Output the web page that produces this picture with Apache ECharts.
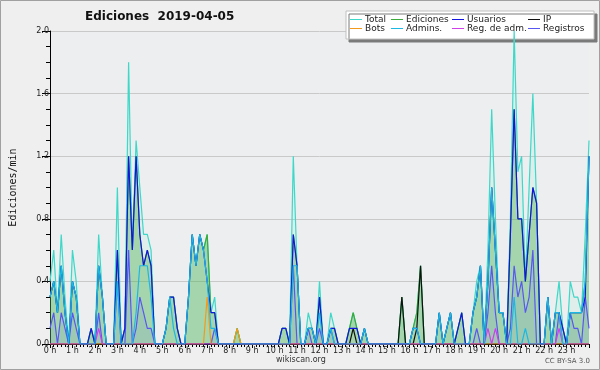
<!DOCTYPE html>
<html>
<head>
<meta charset="utf-8">
<script src="https://cdn.jsdelivr.net/npm/echarts@6/dist/echarts.min.js"></script>
<style>
html, body { margin: 0; padding: 0; background: #efefef; }
#chart { width: 600px; height: 370px; }
</style>
</head>
<body>
<div id="chart"></div>
<script>
// one value every 10 minutes, 00:00 .. 24:00 (6 per line = 1 hour)
var total = [
  .4, .6, .2, .7, .3, 0,
  .6, .4, 0, 0, 0, .1,
  0, .7, .3, 0, 0, 0,
  1.0, 0, .1, 1.8, .6, 1.3,
  1.0, .7, .7, .6, 0, 0,
  0, .1, .3, .3, .1, 0,
  0, .3, .7, .5, .7, .6,
  .7, .2, .3, 0, 0, 0,
  0, 0, .1, 0, 0, 0,
  0, 0, 0, 0, 0, 0,
  0, 0, .1, .1, 0, 1.2,
  .5, 0, 0, .2, .1, 0,
  .4, 0, 0, .2, .1, 0,
  0, 0, .1, .2, .1, 0,
  .1, 0, 0, 0, 0, 0,
  0, 0, 0, 0, .3, 0,
  0, .1, .2, .5, 0, 0,
  0, 0, .2, 0, .1, .2,
  0, .1, .2, 0, 0, .2,
  .4, .5, 0, .6, 1.5, .8,
  .2, .2, 0, .8, 2.0, 1.1,
  1.2, .4, 1.0, 1.6, .9, 0,
  0, .3, 0, .2, .4, .1,
  0, .4, .3, .3, .2, .7,
  1.3
];
var ediciones = [
  .3, .4, .2, .5, .2, 0,
  .4, .3, 0, 0, 0, .1,
  0, .5, .3, 0, 0, 0,
  .6, 0, .1, 1.2, .6, 1.2,
  .7, .5, .6, .5, 0, 0,
  0, .1, .3, .3, .1, 0,
  0, .3, .7, .5, .7, .6,
  .7, .2, .2, 0, 0, 0,
  0, 0, .1, 0, 0, 0,
  0, 0, 0, 0, 0, 0,
  0, 0, .1, .1, 0, .7,
  .5, 0, 0, .1, .1, 0,
  .3, 0, 0, .1, .1, 0,
  0, 0, .1, .2, .1, 0,
  .1, 0, 0, 0, 0, 0,
  0, 0, 0, 0, .3, 0,
  0, .1, .2, .5, 0, 0,
  0, 0, .2, 0, .1, .2,
  0, .1, .2, 0, 0, .2,
  .3, .5, 0, .4, 1.0, .6,
  .2, .2, 0, .7, 1.5, .8,
  .8, .4, .7, 1.0, .9, 0,
  0, .3, 0, .2, .2, .1,
  0, .2, .2, .2, .2, .4,
  1.2
];
var usuarios = [
  .3, .4, .2, .5, .2, 0,
  .4, .3, 0, 0, 0, .1,
  0, .5, .3, 0, 0, 0,
  .6, 0, .1, 1.2, .6, 1.2,
  .7, .5, .6, .5, 0, 0,
  0, .1, .3, .3, .1, 0,
  0, .3, .7, .5, .7, .6,
  .4, .2, .2, 0, 0, 0,
  0, 0, 0, 0, 0, 0,
  0, 0, 0, 0, 0, 0,
  0, 0, .1, .1, 0, .7,
  .5, 0, 0, .1, .1, 0,
  .3, 0, 0, .1, .1, 0,
  0, 0, .1, .1, .1, 0,
  .1, 0, 0, 0, 0, 0,
  0, 0, 0, 0, 0, 0,
  0, .1, .1, 0, 0, 0,
  0, 0, .2, 0, .1, .2,
  0, .1, .2, 0, 0, .2,
  .3, .5, 0, .4, 1.0, .6,
  .2, .2, 0, .7, 1.5, .8,
  .8, .4, .7, 1.0, .9, 0,
  0, .3, 0, .2, .2, .1,
  0, .2, .2, .2, .2, .3,
  1.2
];
var admins = [
  .3, .4, .2, .5, .2, 0,
  .4, .3, 0, 0, 0, 0,
  0, .5, .3, 0, 0, 0,
  .4, 0, 0, 0, 0, .2,
  .5, .5, .5, .3, 0, 0,
  0, .1, .3, .1, 0, 0,
  0, .3, .7, .5, .7, .6,
  .4, .1, .1, 0, 0, 0,
  0, 0, 0, 0, 0, 0,
  0, 0, 0, 0, 0, 0,
  0, 0, 0, 0, 0, .5,
  .5, 0, 0, .1, .1, 0,
  .2, 0, 0, .1, 0, 0,
  0, 0, 0, 0, 0, 0,
  .1, 0, 0, 0, 0, 0,
  0, 0, 0, 0, 0, 0,
  0, .1, .1, 0, 0, 0,
  0, 0, .2, 0, .1, .2,
  0, 0, 0, 0, 0, .2,
  .3, .5, 0, .4, 1.0, .6,
  .2, .2, 0, 0, .3, 0,
  0, .1, 0, 0, 0, 0,
  0, .3, 0, .2, .2, 0,
  0, .2, .2, .2, .2, .4,
  1.2
];
var registros = [
  .1, .2, 0, .2, .1, 0,
  .2, .1, 0, 0, 0, 0,
  0, .2, 0, 0, 0, 0,
  .4, 0, 0, .6, 0, .1,
  .3, .2, .1, .1, 0, 0,
  0, 0, 0, 0, 0, 0,
  0, 0, 0, 0, 0, 0,
  0, 0, .1, 0, 0, 0,
  0, 0, 0, 0, 0, 0,
  0, 0, 0, 0, 0, 0,
  0, 0, 0, 0, 0, .5,
  0, 0, 0, .1, 0, 0,
  .1, 0, 0, .1, 0, 0,
  0, 0, 0, 0, 0, 0,
  0, 0, 0, 0, 0, 0,
  0, 0, 0, 0, 0, 0,
  0, 0, 0, 0, 0, 0,
  0, 0, 0, 0, 0, 0,
  0, 0, 0, 0, 0, 0,
  .1, 0, 0, .2, .5, .2,
  0, 0, 0, .1, .5, .3,
  .4, .2, .3, .6, 0, 0,
  0, 0, 0, 0, .2, 0,
  0, .2, .1, .1, 0, .3,
  .1
];
var ip = [
  0, 0, 0, 0, 0, 0,  0, 0, 0, 0, 0, 0,  0, 0, 0, 0, 0, 0,  0, 0, 0, 0, 0, 0,
  0, 0, 0, 0, 0, 0,  0, 0, 0, 0, 0, 0,  0, 0, 0, 0, 0, 0,  0, 0, 0, 0, 0, 0,
  0, 0, 0, 0, 0, 0,  0, 0, 0, 0, 0, 0,  0, 0, 0, 0, 0, 0,  0, 0, 0, 0, 0, 0,
  0, 0, 0, 0, 0, 0,  0, 0, 0, .1, 0, 0,  0, 0, 0, 0, 0, 0,  0, 0, 0, 0, .3, 0,
  0, 0, .1, .5, 0, 0,  0, 0, 0, 0, 0, 0,  0, 0, 0, 0, 0, 0,  0, 0, 0, 0, 0, 0,
  0, 0, 0, 0, 0, 0,  0, 0, 0, 0, 0, 0,  0, 0, 0, 0, 0, 0,  0, 0, 0, 0, 0, 0,
  0
];
var bots = [
  0, 0, 0, 0, 0, 0,  0, 0, 0, 0, 0, 0,  0, 0, 0, 0, 0, 0,  0, 0, 0, 0, 0, 0,
  0, 0, 0, 0, 0, 0,  0, 0, 0, 0, 0, 0,  0, 0, 0, 0, 0, 0,  .3, 0, 0, 0, 0, 0,
  0, 0, .1, 0, 0, 0,  0, 0, 0, 0, 0, 0,  0, 0, 0, 0, 0, 0,  0, 0, 0, 0, 0, 0,
  0, 0, 0, 0, 0, 0,  0, 0, 0, 0, 0, 0,  0, 0, 0, 0, 0, 0,  0, 0, 0, 0, 0, 0,
  0, 0, 0, 0, 0, 0,  0, 0, 0, 0, 0, 0,  0, 0, 0, 0, 0, 0,  0, 0, 0, 0, 0, 0,
  0, 0, 0, 0, 0, 0,  0, 0, 0, 0, 0, 0,  0, 0, 0, 0, 0, 0,  0, 0, 0, 0, 0, 0,
  0
];
var regAdm = [
  0, 0, 0, 0, 0, 0,  0, 0, 0, 0, 0, 0,  0, .1, 0, 0, 0, 0,  0, 0, 0, 0, 0, 0,
  0, 0, 0, 0, 0, 0,  0, 0, 0, 0, 0, 0,  0, 0, 0, 0, 0, 0,  0, 0, 0, 0, 0, 0,
  0, 0, 0, 0, 0, 0,  0, 0, 0, 0, 0, 0,  0, 0, 0, 0, 0, 0,  0, 0, 0, 0, 0, 0,
  0, 0, 0, 0, 0, 0,  0, 0, 0, 0, 0, 0,  0, 0, 0, 0, 0, 0,  0, 0, 0, 0, 0, 0,
  0, 0, 0, 0, 0, 0,  0, 0, 0, 0, 0, 0,  0, 0, 0, 0, 0, 0,  0, 0, 0, .1, 0, .1,
  0, 0, 0, 0, 0, 0,  0, 0, 0, 0, 0, 0,  0, 0, 0, 0, .1, 0,  0, 0, 0, 0, 0, 0,
  0
];

var hourLabels = ['0 h', '1 h', '2 h', '3 h', '4 h', '5 h', '6 h', '7 h', '8 h', '9 h', '10 h', '11 h',
  '12 h', '13 h', '14 h', '15 h', '16 h', '17 h', '18 h', '19 h', '20 h', '21 h', '22 h', '23 h'];
var yTickLabels = ['0.0', '0.4', '0.8', '1.2', '1.6', '2.0'];
var legendNames = ['Total', 'Ediciones', 'Usuarios', 'IP', 'Bots', 'Admins.', 'Reg. de adm.', 'Registros'];

function pts(arr) {
  return arr.map(function (v, i) { return [i / 6, v]; });
}

function lineSeries(name, data, color, extra) {
  var s = {
    name: name,
    type: 'line',
    data: pts(data),
    symbol: 'none',
    showSymbol: false,
    itemStyle: { color: color },
    lineStyle: { color: color, width: 1.2 },
    emphasis: { disabled: true }
  };
  if (extra) for (var k in extra) s[k] = extra[k];
  return s;
}

var font = 'DejaVu Sans';

// legend laid out as a 4 x 2 grid
var colLeft = [350, 391, 452, 528];
var rowTop = [15, 24];
var legends = legendNames.map(function (n, i) {
  return {
    data: [n],
    left: colLeft[i % 4],
    top: rowTop[Math.floor(i / 4)],
    padding: 0,
    icon: 'rect',
    itemWidth: 12,
    itemHeight: 1,
    selectedMode: false,
    z: 4,
    textStyle: { fontFamily: font, fontSize: 9, color: '#222', lineHeight: 9, padding: [0, 0, 0, -2] }
  };
});

var chart = echarts.init(document.getElementById('chart'));
chart.setOption({
  animation: false,
  backgroundColor: '#efefef',
  title: {
    text: 'Ediciones  2019-04-05',
    left: 85, top: 11, padding: 0,
    textStyle: { fontFamily: font, fontSize: 12, fontWeight: 'bold', color: '#111' }
  },
  legend: legends,
  grid: {
    left: 46, right: 11, top: 31, bottom: 26,
    show: true, backgroundColor: '#eceef0', borderWidth: 0
  },
  xAxis: {
    type: 'value', min: 0, max: 24, interval: 1,
    axisLine: { lineStyle: { color: '#000', width: 1 } },
    axisTick: { length: 4, lineStyle: { color: '#000' } },
    minorTick: { show: true, splitNumber: 6, length: 3, lineStyle: { color: '#000' } },
    splitLine: { show: false },
    axisLabel: {
      fontFamily: font, fontSize: 8, color: '#222', margin: 3,
      formatter: function (v) { return hourLabels[v] || ''; }
    }
  },
  yAxis: {
    type: 'value', min: 0, max: 2, interval: 0.4,
    name: 'Ediciones/min', nameLocation: 'middle', nameGap: 32,
    nameTextStyle: { fontFamily: 'DejaVu Sans Mono', fontSize: 10, color: '#111' },
    axisLine: { show: true, lineStyle: { color: '#000', width: 1 } },
    axisTick: { show: true, length: 8, lineStyle: { color: '#000' } },
    minorTick: { show: true, splitNumber: 4, length: 4, lineStyle: { color: '#000' } },
    splitLine: { lineStyle: { color: '#c9c9c9', width: 1 } },
    axisLabel: {
      fontFamily: font, fontSize: 8, color: '#222', margin: 1,
      formatter: function (v) { return yTickLabels[Math.round(v / 0.4)]; }
    }
  },
  graphic: [
    {
      type: 'rect', z: 1,
      shape: { x: 346, y: 11, width: 248, height: 28 },
      style: { fill: '#fff', stroke: '#c0c0c0', lineWidth: 1,
        shadowColor: '#7a7a7a', shadowOffsetX: 3, shadowOffsetY: 3, shadowBlur: 0 }
    },
    {
      type: 'text', left: 276, top: 356,
      style: { text: 'wikiscan.org', font: '8px "DejaVu Sans"', fill: '#333' }
    },
    {
      type: 'text', right: 10, top: 358,
      style: { text: 'CC BY-SA 3.0', font: '7px "DejaVu Sans"', fill: '#555' }
    },
    {
      type: 'rect', silent: true, z: 10,
      shape: { x: 0.5, y: 0.5, width: 599, height: 369 },
      style: { fill: 'none', stroke: '#a0a0a0', lineWidth: 1 }
    }
  ],
  series: [
    lineSeries('Total', total, '#3dd8c8', { areaStyle: { color: 'rgba(120,225,205,0.16)' } }),
    lineSeries('Ediciones', ediciones, '#3aaa3a', { areaStyle: { color: 'rgba(60,170,60,0.5)' } }),
    lineSeries('Registros', registros, '#5858f0', { areaStyle: { color: 'rgba(80,80,240,0.12)' } }),
    lineSeries('IP', ip, '#111111'),
    lineSeries('Bots', bots, '#f39a1c'),
    lineSeries('Reg. de adm.', regAdm, '#d040e8'),
    lineSeries('Usuarios', usuarios, '#1414e0'),
    lineSeries('Admins.', admins, '#1cb8e4')
  ]
});
</script>
</body>
</html>
